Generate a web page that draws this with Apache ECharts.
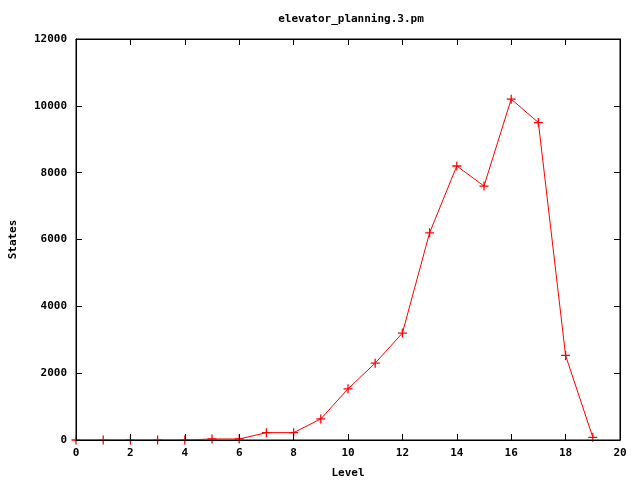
<!DOCTYPE html>
<html>
<head>
<meta charset="utf-8">
<script src="https://cdn.jsdelivr.net/npm/echarts@6/dist/echarts.min.js"></script>
<style>html,body{margin:0;padding:0;background:#fff}#c{width:640px;height:480px}</style>
</head>
<body>
<div id="c"></div>
<script>
var levels = [0,1,2,3,4,5,6,7,8,9,10,11,12,13,14,15,16,17,18,19];
var states = [0,0,0,0,0,30,30,220,220,630,1530,2300,3200,6200,8200,7600,10200,9500,2530,80];
var titleText = 'elevator_planning.3.pm';
var xName = 'Level';
var yName = 'States';

var font = 'DejaVu Sans Mono';
var chart = echarts.init(document.getElementById('c'), null, {renderer:'canvas'});
var pts = levels.map(function(l,i){return [l, states[i]];});
var plus = 'path://M3,0 H4 V3 H7 V4 H4 V7 H3 V4 H0 V3 H3 Z';
var lab = {color:'#000', fontFamily:font, fontWeight:'bold', fontSize:11};
function plain(v){return String(v);}
var tick = {show:true, inside:true, length:6, lineStyle:{color:'#000', width:1}};
var line = {show:true, onZero:false, lineStyle:{color:'#000', width:1}};
chart.setOption({
  backgroundColor:'#fff',
  animation:false,
  title:{text:titleText, left:346, top:9, textAlign:'center',
    textStyle:{color:'#000', fontFamily:font, fontWeight:'bold', fontSize:11}},
  grid:{left:76, right:20, top:39, bottom:40, show:true, borderColor:'#000', borderWidth:1,
    containLabel:false, outerBoundsMode:'none'},
  xAxis:[{type:'value', min:0, max:20, interval:2, position:'bottom', z:5,
    name:xName, nameLocation:'middle', nameGap:28, nameTextStyle:lab,
    axisLine:line, axisTick:tick,
    axisLabel:Object.assign({margin:8, formatter:plain}, lab), splitLine:{show:false}},
   {type:'value', min:0, max:20, interval:2, position:'top', z:5,
    axisLine:line, axisTick:tick,
    axisLabel:{show:false}, splitLine:{show:false}}],
  yAxis:[{type:'value', min:0, max:12000, interval:2000, position:'left', z:5,
    name:yName, nameLocation:'middle', nameGap:57, nameRotate:90, nameTextStyle:lab,
    axisLine:line, axisTick:tick,
    axisLabel:Object.assign({margin:9, formatter:plain}, lab), splitLine:{show:false}},
   {type:'value', min:0, max:12000, interval:2000, position:'right', z:5,
    axisLine:line, axisTick:tick,
    axisLabel:{show:false}, splitLine:{show:false}}],
  series:[{type:'line', data:pts, clip:false, z:2,
    symbol:plus, symbolSize:9, showAllSymbol:true,
    lineStyle:{color:'#ff0000', width:1},
    itemStyle:{color:'#ff0000'}},
   {type:'line', xAxisIndex:1, yAxisIndex:1, data:[], silent:true, showSymbol:false}]
});
</script>
</body>
</html>
